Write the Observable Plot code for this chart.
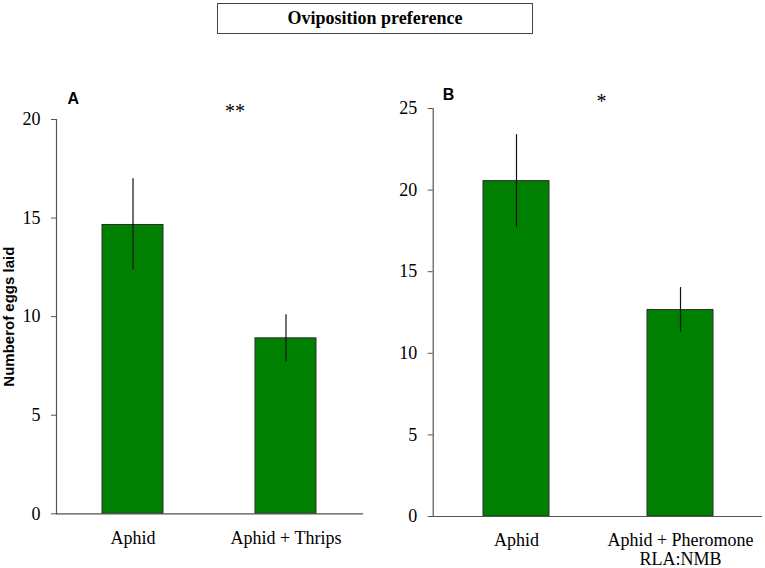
<!DOCTYPE html>
<html>
<head>
<meta charset="utf-8">
<script src="https://cdn.jsdelivr.net/npm/d3@7"></script>
<script src="https://cdn.jsdelivr.net/npm/@observablehq/plot@0.6"></script>
<style>
  html, body { margin: 0; padding: 0; background: #fff; }
  #root { position: relative; width: 765px; height: 568px; overflow: hidden; background: #fff; }
  #title {
    position: absolute; left: 217px; top: 3px; width: 314px; height: 29px;
    border: 1px solid #444; box-sizing: content-box;
    font: bold 18px "Liberation Serif", "Times New Roman", serif;
    text-align: center; line-height: 29px; color: #000;
  }
  .panel { position: absolute; top: 0; }
</style>
</head>
<body>
<div id="root">
  <div id="title">Oviposition preference</div>
  <div id="pa" class="panel" style="left:0px"></div>
  <div id="pb" class="panel" style="left:390px"></div>
</div>
<script>
// Panel A data
const categoriesA = ["Aphid", "Aphid + Thrips"];
const meansA = [14.65, 8.9];
const lowerA = [12.38, 7.71];
const upperA = [16.99, 10.1];
const ticksA = [0, 5, 10, 15, 20];

// Panel B data
const categoriesB = ["Aphid", "Aphid + Pheromone\nRLA:NMB"];
const meansB = [20.55, 12.65];
const lowerB = [17.7, 11.3];
const upperB = [23.4, 14.03];
const ticksB = [0, 5, 10, 15, 20, 25];

const yTitle = "Numberof eggs laid";

const serif = '"Liberation Serif", "Times New Roman", serif';
const sans = '"Liberation Sans", Arial, sans-serif';

function panel(o) {
  const data = o.cats.map((c, i) => ({cat: c, mean: o.means[i], lo: o.lower[i], hi: o.upper[i]}));
  const marks = [
    Plot.barY(data, {x: "cat", y: "mean", fill: "#008000", stroke: "#2b2b2b", strokeWidth: 1}),
    Plot.ruleX(data, {x: "cat", y1: "lo", y2: "hi", stroke: "#111", strokeWidth: 1.2}),
    Plot.axisY({ticks: o.ticks, tickSize: 5, tickPadding: 11, fontSize: 18, stroke: "#555", fill: "#000", label: null, tickFormat: d => String(d)}),
    Plot.axisX({tickSize: 0, tickPadding: o.xPad, fontSize: 18, lineHeight: 1.1, fill: "#000", label: null}),
    Plot.ruleY([0], {stroke: "#555", strokeWidth: 1.2}),
    Plot.frame({anchor: "left", stroke: "#555", strokeWidth: 1.2}),
    Plot.text([o.letter], {frameAnchor: "top-left", textAnchor: "start", lineAnchor: "bottom", dx: o.letterDx, dy: o.letterDy, fontFamily: sans, fontWeight: "bold", fontSize: 16, fill: "#000"}),
    Plot.text([o.stars], {frameAnchor: "top", lineAnchor: "bottom", dx: o.starDx, dy: o.starDy, fontFamily: serif, fontSize: 20, fill: "#000"})
  ];
  if (o.yTitle) {
    marks.push(Plot.text([o.yTitle], {frameAnchor: "left", textAnchor: "middle", lineAnchor: "middle", rotate: -90, dx: -47, dy: 0, fontFamily: sans, fontWeight: "bold", fontSize: 15, fill: "#000"}));
  }
  return Plot.plot({
    width: o.width, height: 568,
    marginLeft: o.ml, marginRight: o.mr, marginTop: o.mt, marginBottom: o.mb,
    style: {fontFamily: serif, fontSize: "18px", color: "#000", background: "transparent", overflow: "visible"},
    x: {domain: o.cats, paddingInner: 0.6, paddingOuter: 0.3, label: null},
    y: {domain: [0, o.yMax], label: null},
    marks
  });
}

document.getElementById("pa").appendChild(panel({
  cats: categoriesA, means: meansA, lower: lowerA, upper: upperA, ticks: ticksA, yMax: 20,
  width: 390, ml: 56, mr: 27, mt: 119, mb: 54.7, xPad: 16,
  letter: "A", letterDx: 11, letterDy: -16,
  stars: "**", starDx: 25, starDy: -2,
  yTitle
}));

document.getElementById("pb").appendChild(panel({
  cats: categoriesB, means: meansB, lower: lowerB, upper: upperB, ticks: ticksB, yMax: 25,
  width: 375, ml: 42.7, mr: 3, mt: 108, mb: 52, xPad: 15,
  letter: "B", letterDx: 9.5, letterDy: -9,
  stars: "*", starDx: 3.6, starDy: -1
}));
</script>
</body>
</html>
